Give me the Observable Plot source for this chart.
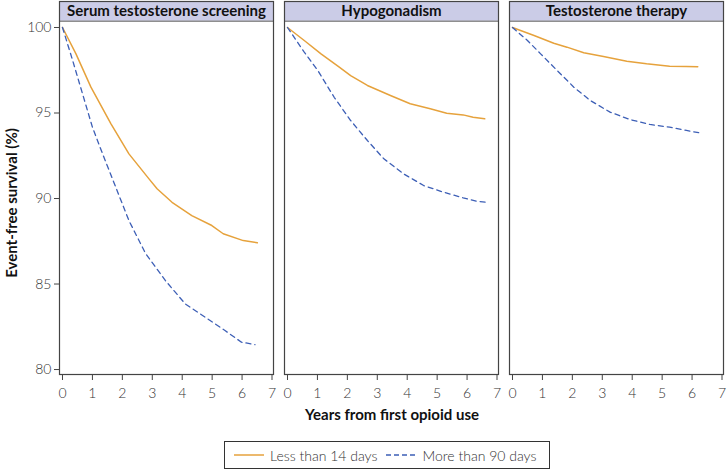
<!DOCTYPE html>
<html>
<head>
<meta charset="utf-8">
<script src="https://cdn.jsdelivr.net/npm/d3@7"></script>
<script src="https://cdn.jsdelivr.net/npm/@observablehq/plot@0.6"></script>
<style>
  body { margin: 0; background: #fff; font-family: Lato, "DejaVu Sans", sans-serif; }
  #legend { position: relative; width: 728px; height: 38px; }
  #legend .box { position: absolute; left: 224px; top: 9px; width: 324px; height: 26px; border: 1px solid #333;
    display: flex; align-items: center; font-size: 14px; color: #333; font-weight: 300; }
  #legend .item { display: flex; align-items: center; margin-left: 9px; }
  #legend svg { margin-right: 6px; }
</style>
</head>
<body>
<div id="chart"></div>
<div id="legend"></div>
<script>
const panels = ["Serum testosterone screening", "Hypogonadism", "Testosterone therapy"];
const groups = ["Less than 14 days", "More than 90 days"];
const groupColors = ["#e6a23c", "#3d5fb6"];
const xTicks = [0, 1, 2, 3, 4, 5, 6, 7];
const yTicks = [80, 85, 90, 95, 100];

const screeningTimeShort = [0, 0.45, 0.95, 1.62, 2.22, 2.89, 3.16, 3.66, 4.32, 4.99, 5.37, 6.04, 6.51];
const screeningSurvShort = [100, 98.46, 96.51, 94.37, 92.61, 91.15, 90.57, 89.78, 89.0, 88.42, 87.94, 87.54, 87.41];
const screeningTimeLong = [0, 0.34, 0.67, 1.0, 1.34, 1.78, 2.22, 2.78, 3.44, 4.1, 4.77, 5.43, 5.98, 6.43];
const screeningSurvLong = [100, 98.07, 96.12, 94.17, 92.61, 90.66, 88.71, 86.77, 85.2, 83.84, 83.06, 82.28, 81.6, 81.46];

const hypoTimeShort = [0, 0.56, 1.12, 1.73, 2.11, 2.67, 3.44, 4.1, 4.77, 5.32, 5.87, 6.2, 6.59];
const hypoSurvShort = [100, 99.24, 98.46, 97.68, 97.19, 96.61, 96.02, 95.54, 95.25, 94.99, 94.89, 94.75, 94.66];
const hypoTimeLong = [0, 0.56, 1.01, 1.56, 2.11, 2.67, 3.22, 3.88, 4.55, 5.21, 5.87, 6.31, 6.67];
const hypoSurvLong = [100, 98.56, 97.49, 95.92, 94.56, 93.39, 92.32, 91.44, 90.76, 90.37, 90.04, 89.84, 89.78];

const therapyTimeShort = [0, 0.72, 1.38, 1.82, 2.38, 3.04, 3.82, 4.48, 5.25, 5.81, 6.19];
const therapySurvShort = [100, 99.53, 99.08, 98.85, 98.52, 98.3, 98.03, 97.88, 97.74, 97.72, 97.70];
const therapyTimeLong = [0, 0.5, 0.94, 1.49, 2.05, 2.6, 3.26, 3.92, 4.59, 5.25, 5.81, 6.25];
const therapySurvLong = [100, 99.24, 98.46, 97.49, 96.51, 95.73, 95.05, 94.62, 94.33, 94.17, 93.98, 93.84];

const rows = [];
function add(panel, group, ts, vs) { ts.forEach((t, i) => rows.push({panel, group, t, v: vs[i]})); }
add(panels[0], groups[0], screeningTimeShort, screeningSurvShort);
add(panels[0], groups[1], screeningTimeLong, screeningSurvLong);
add(panels[1], groups[0], hypoTimeShort, hypoSurvShort);
add(panels[1], groups[1], hypoTimeLong, hypoSurvLong);
add(panels[2], groups[0], therapyTimeShort, therapySurvShort);
add(panels[2], groups[1], therapyTimeLong, therapySurvLong);

const xDomain = [-0.1, 7.05];
const yDomain = [79.71, 101.52];
const stripBottom = 100.37;
const strips = panels.map(p => ({panel: p}));

const chart = Plot.plot({
  width: 728, height: 432,
  marginLeft: 58, marginRight: 3, marginTop: 1, marginBottom: 58,
  style: {fontFamily: "Lato, 'DejaVu Sans', sans-serif", fontSize: "13px", color: "#333", background: "#fff"},
  fx: {domain: panels, padding: 0.0485, axis: null, label: null},
  x: {domain: xDomain, label: null},
  y: {domain: yDomain, label: null},
  marks: [
    Plot.rect(strips, {fx: "panel", x1: xDomain[0], x2: xDomain[1], y1: stripBottom, y2: yDomain[1], fill: "#cbcce7"}),
    Plot.ruleY(strips, {fx: "panel", y: stripBottom, stroke: "#555", strokeWidth: 1}),
    Plot.line(rows.filter(d => d.group === groups[0]), {fx: "panel", x: "t", y: "v", stroke: groupColors[0], strokeWidth: 1.5}),
    Plot.line(rows.filter(d => d.group === groups[1]), {fx: "panel", x: "t", y: "v", stroke: groupColors[1], strokeWidth: 1.3, strokeDasharray: "5,4"}),
    Plot.text(strips, {fx: "panel", x: (xDomain[0] + xDomain[1]) / 2, y: (stripBottom + yDomain[1]) / 2, text: "panel",
      fontWeight: "bold", fontSize: 15, fill: "#111"}),
    Plot.frame({stroke: "#444", strokeWidth: 1.2}),
    Plot.axisX({ticks: xTicks, tickSize: 6, tickPadding: 8, label: null, stroke: "#444", fill: "#333", fontWeight: 300, fontSize: 14}),
    Plot.axisY({ticks: yTicks, tickSize: 5, tickPadding: 3, label: null, stroke: "#444", fill: "#333", fontWeight: 300, fontSize: 14})
  ]
});
document.getElementById("chart").appendChild(chart);

const svg = d3.select(chart);
svg.append("text")
  .attr("transform", "translate(17,203) rotate(-90)")
  .attr("text-anchor", "middle")
  .attr("font-weight", "bold").attr("font-size", 15).attr("fill", "#111")
  .text("Event-free survival (%)");
svg.append("text")
  .attr("x", 392).attr("y", 420)
  .attr("text-anchor", "middle")
  .attr("font-weight", "bold").attr("font-size", 15).attr("fill", "#111")
  .text("Years from first opioid use");

const legend = d3.select("#legend").append("div").attr("class", "box");
groups.forEach((g, i) => {
  const item = legend.append("div").attr("class", "item");
  const s = item.append("svg").attr("width", 30).attr("height", 10);
  s.append("line").attr("x1", 0).attr("x2", 30).attr("y1", 5).attr("y2", 5)
    .attr("stroke", groupColors[i]).attr("stroke-width", 1.5)
    .attr("stroke-dasharray", i === 1 ? "5,3" : null);
  item.append("span").text(g);
});
</script>
</body>
</html>
